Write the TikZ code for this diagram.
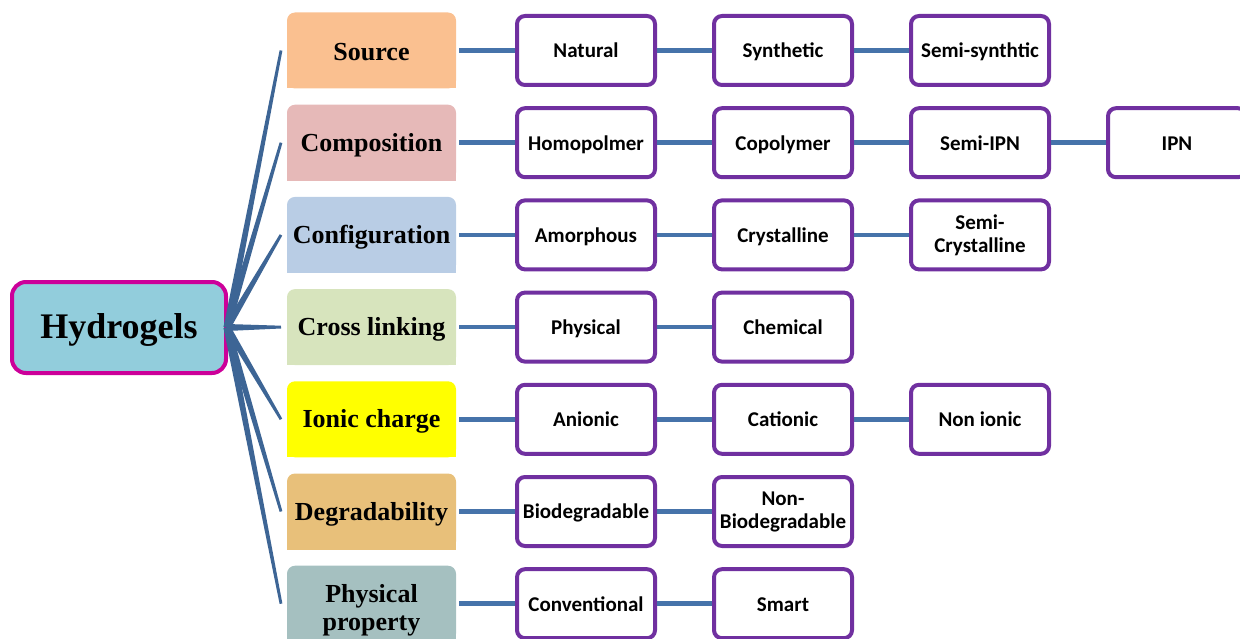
\documentclass[tikz,border=0pt]{standalone}
\usepackage{fontspec}
\setmainfont{Liberation Serif}
\newfontfamily\calib{Carlito}
\usetikzlibrary{calc,backgrounds}
\definecolor{hubfill}{HTML}{92CDDC}
\definecolor{hubborder}{HTML}{CC0099}
\definecolor{leafborder}{HTML}{7030A0}
\definecolor{linkblue}{HTML}{4673AA}
\definecolor{fanblue}{HTML}{3D6595}
\definecolor{csrc}{HTML}{FAC090}
\definecolor{ccomp}{HTML}{E6B9B8}
\definecolor{cconf}{HTML}{B9CDE5}
\definecolor{ccross}{HTML}{D7E4BD}
\definecolor{cionic}{HTML}{FFFF00}
\definecolor{cdeg}{HTML}{E8C07A}
\definecolor{cphys}{HTML}{A5C0C0}
\begin{document}
\begin{tikzpicture}[x=1pt,y=-1pt,
  hub/.style={draw=hubborder, line width=4pt, fill=hubfill, rounded corners=14pt,
    minimum width=214pt, minimum height=91pt, inner sep=0pt,
    text height=24pt, text depth=3pt,
    font=\bfseries\fontsize{36}{40}\selectfont},
  cat/.style={minimum width=169pt, minimum height=76pt, inner sep=0pt, outer sep=0pt,
    align=center, font=\bfseries\fontsize{26}{28}\selectfont,
    execute at begin node={\rule{0pt}{23pt}},
    execute at end node={\rule[-2pt]{0pt}{2pt}}},
  leaf/.style={draw=leafborder, line width=4pt, fill=white, rounded corners=8pt,
    minimum width=138pt, minimum height=69pt, inner sep=0pt, align=center,
    font=\calib\bfseries\fontsize{21}{23}\selectfont,
    execute at begin node={\rule{0pt}{18pt}},
    execute at end node={\rule[-3pt]{0pt}{3pt}}},
  link/.style={draw=linkblue, line width=4.5pt},
  fan/.style={fill=fanblue}
]
\useasboundingbox (0,0) rectangle (1240,639);
\clip (0,0) rectangle (1240,639);

% hub
\node[hub] (h) at (119,327.5) {Hydrogels};

% categories
\node[cat] (c1) at (371.5,50.5)  {Source};
\node[cat] (c2) at (371.5,142.7) {Composition};
\node[cat] (c3) at (371.5,234.9) {Configuration};
\node[cat] (c4) at (371.5,327.1) {Cross linking};
\node[cat] (c5) at (371.5,419.3) {Ionic charge};
\node[cat] (c6) at (371.5,511.5) {Degradability};
\node[cat] (c7) at (371.5,603.7) {\rule{0pt}{31pt}Physical\\property};

\begin{scope}[on background layer]
  \foreach \n/\c in {c1/csrc,c2/ccomp,c3/cconf,c4/ccross,c5/cionic,c6/cdeg,c7/cphys}{
    \fill[\c, rounded corners=8pt] (\n.south west) rectangle (\n.north east);
    \fill[\c] (\n.south west) rectangle (\n.east);
  }
\end{scope}

% leaves
\node[leaf] (n11) at (586,50.5) {Natural};
\node[leaf] (n12) at (783,50.5) {Synthetic};
\node[leaf] (n13) at (980,50.5) {Semi-synthtic};

\node[leaf] (n21) at (586,142.7) {Homopolmer};
\node[leaf] (n22) at (783,142.7) {Copolymer};
\node[leaf] (n23) at (980,142.7) {Semi-IPN};
\node[leaf] (n24) at (1177,142.7) {IPN};

\node[leaf] (n31) at (586,234.9) {Amorphous};
\node[leaf] (n32) at (783,234.9) {Crystalline};
\node[leaf] (n33) at (980,234.9) {Semi-\\Crystalline};

\node[leaf] (n41) at (586,327.1) {Physical};
\node[leaf] (n42) at (783,327.1) {Chemical};

\node[leaf] (n51) at (586,419.3) {Anionic};
\node[leaf] (n52) at (783,419.3) {Cationic};
\node[leaf] (n53) at (980,419.3) {Non ionic};

\node[leaf] (n61) at (586,511.5) {Biodegradable};
\node[leaf] (n62) at (783,511.5) {Non-\\Biodegradable};

\node[leaf] (n71) at (586,603.7) {Conventional};
\node[leaf] (n72) at (783,603.7) {Smart};

% links between category and leaves
\foreach \c/\a in {c1/n11,c2/n21,c3/n31,c4/n41,c5/n51,c6/n61,c7/n71}
  \draw[link, shorten <=3pt] (\c.east) -- (\a.west);
\foreach \a/\b in {n11/n12,n12/n13,n21/n22,n22/n23,n23/n24,n31/n32,n32/n33,
                   n41/n42,n51/n52,n52/n53,n61/n62,n71/n72}
  \draw[link] (\a.east) -- (\b.west);

% tapered fan from hub to categories
\coordinate (hp) at ($(h.east)+(-1,0)$);
\foreach \c in {c1,c2,c3,c4,c5,c6,c7}{
  \coordinate (e) at ($(\c.west)+(-6,0)$);
  \fill[fan] ($(hp)!3.5pt!90:(e)$) -- ($(e)!1.4pt!-90:(hp)$) --
             ($(e)!1.4pt!90:(hp)$) -- ($(hp)!3.5pt!-90:(e)$) -- cycle;
}
\end{tikzpicture}
\end{document}
